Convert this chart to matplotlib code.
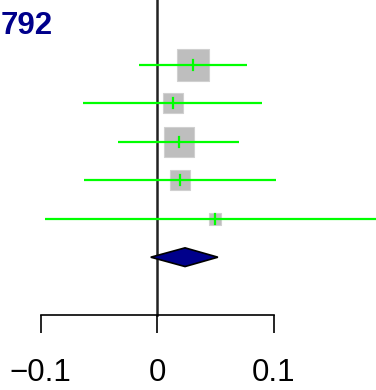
import numpy as np
import matplotlib
matplotlib.use("Agg")
import matplotlib.pyplot as plt
from matplotlib.patches import Polygon

# study estimates with 95% CI
est = [0.0304, 0.0132, 0.0186, 0.0194, 0.0495]
lower = [-0.0160, -0.0640, -0.0335, -0.0629, -0.0964]
upper = [0.0767, 0.0901, 0.0705, 0.1017, 0.1950]
weights = [37.7, 14.5, 30.2, 13.1, 4.5]

# pooled estimate
pooled = 0.0238
pooled_lo = -0.0056
pooled_hi = 0.0520

title = "792"
xticks = [-0.1, 0, 0.1]
xticklabels = ["\u22120.1", "0", "0.1"]

plt.rcParams["font.family"] = ["Liberation Sans", "DejaVu Sans"]

fig = plt.figure(figsize=(3.76, 3.90), dpi=100)
ax = fig.add_axes([0, 0, 1, 1])

# pixel -> data mapping: 0 at x=157.3, 1165 px per unit; rows 38.5 px apart
x0, ppu = 157.3, 1165.0
y0, rowh = 64.7, 38.5
ax.set_xlim((0 - x0) / ppu, (376 - x0) / ppu)
ax.set_ylim((390 - y0) / rowh, (0 - y0) / rowh)

rows = np.arange(len(est))
max_side = 32.7  # px of largest box
for r, e, lo, hi, w in zip(rows, est, lower, upper, weights):
    side = max_side * np.sqrt(w / max(weights))
    ax.plot(e, r, marker="s", markersize=side * 0.72, color="#bebebe",
            markeredgecolor="#d0d0d0", markeredgewidth=0.8, zorder=2)
    ax.plot([lo, hi], [r, r], color="#00ff00", lw=1.6, zorder=3,
            solid_capstyle="butt")
    ax.plot([e, e], [r - 0.13, r + 0.13], color="#00ff00", lw=1.6, zorder=3)

# diamond for pooled
rd = len(est)
h = 9.35 / rowh
diamond = Polygon([[pooled_lo, rd], [pooled, rd - h], [pooled_hi, rd], [pooled, rd + h]],
                  closed=True, facecolor="#00008b", edgecolor="black", lw=1.2, zorder=4)
ax.add_patch(diamond)

# line of no effect
axis_row = (314.5 - y0) / rowh
ax.plot([0, 0], [(0 - y0) / rowh, axis_row], color="#222222", lw=1.8, zorder=1)

# x axis
for s in ["top", "left", "right"]:
    ax.spines[s].set_visible(False)
ax.spines["bottom"].set_position(("data", axis_row))
ax.spines["bottom"].set_bounds(-0.1, 0.1)
ax.spines["bottom"].set_linewidth(1.2)
ax.set_xticks(xticks)
ax.set_xticklabels(xticklabels, fontsize=22.5)
ax.tick_params(axis="x", direction="out", length=13, width=1.2, pad=18)
ax.set_yticks([])
ax.patch.set_visible(False)

fig.text(1 / 376, 1 - 25.5 / 390, title, ha="left", va="center",
         fontsize=22.5, fontweight="bold", color="#00008b")

fig.savefig("out.png", dpi=100)
